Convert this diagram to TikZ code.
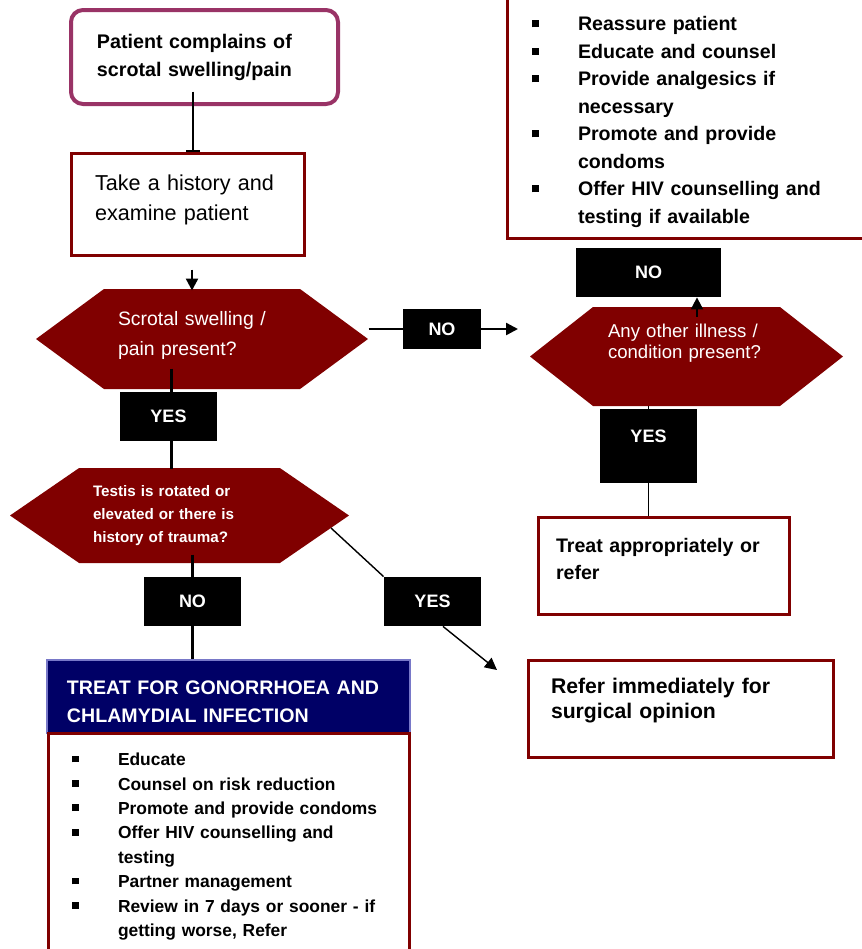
\documentclass[tikz,border=0pt]{standalone}
\usepackage{fontspec}
\setmainfont{Liberation Sans}
\usetikzlibrary{shapes.symbols,arrows.meta,calc}

\definecolor{darkred}{RGB}{128,0,0}
\definecolor{plum}{RGB}{153,51,102}
\definecolor{navy}{RGB}{0,0,102}
\definecolor{navyedge}{RGB}{120,120,200}

% square bullet, item line and continued line
\newcommand{\sqb}{\rule[1.7pt]{3.4pt}{3.4pt}}
\newcommand{\itm}[1]{\makebox[23pt][l]{\sqb}#1}
\newcommand{\cnt}[1]{\hspace*{23pt}#1}

\begin{document}
\begin{tikzpicture}[x=0.5pt,y=-0.5pt,
  box/.style={draw=darkred,line width=1.5pt,fill=white,inner sep=0pt,align=left},
  hexa/.style={signal,signal to=east and west,fill=darkred,text=white,inner sep=0pt,align=left},
  lbl/.style={fill=black,text=white,inner sep=0pt,font=\bfseries\fontsize{9}{10}\selectfont},
  line/.style={line width=1.2pt},
  thinline/.style={line width=0.7pt},
  arr/.style={line width=1.2pt,-{Triangle[length=6pt,width=6pt]}}]
  \useasboundingbox (0,0) rectangle (862,949);

  % left column
  \node[box,draw=plum,line width=2pt,rounded corners=6pt,minimum width=133.5pt,minimum height=47pt,
    text width=107.5pt,font=\bfseries\fontsize{9.85}{14}\selectfont] (p1) at (204.5,57)
    {Patient complains of\\scrotal swelling/pain};
  \node[box,minimum width=116.5pt,minimum height=51pt,text width=92.5pt,text depth=21pt,
    font=\fontsize{10.8}{15}\selectfont] (p2) at (187.5,204)
    {Take a history and\\examine patient};
  \node[hexa,signal pointer angle=72.7,minimum width=166pt,minimum height=50pt,text width=84pt,
    text depth=21pt,font=\fontsize{9.7}{15}\selectfont] (hex1) at (202,339)
    {Scrotal swelling /\\pain present?};
  \node[lbl,minimum width=39pt,minimum height=20pt] (noA) at (442,329) {NO};
  \node[lbl,minimum width=48.5pt,minimum height=24.5pt] (yesA) at (168.5,416.5) {YES};
  \node[hexa,signal pointer angle=69,minimum width=169.5pt,minimum height=47.5pt,text width=86.5pt,
    font=\bfseries\fontsize{7.6}{11.5}\selectfont] (hex3) at (179.5,515.5)
    {Testis is rotated or\\elevated or there is\\history of trauma?};
  \node[lbl,minimum width=48.5pt,minimum height=24.5pt] (noC) at (192.5,601.5) {NO};
  \node[lbl,minimum width=48.5pt,minimum height=24.5pt] (yesB) at (432.5,601.5) {YES};
  \node[fill=navy,draw=navyedge,line width=0.6pt,text=white,inner sep=0pt,align=left,
    minimum width=181.5pt,minimum height=36.5pt,text width=161.5pt,text height=12pt,
    font=\bfseries\fontsize{9.8}{14}\selectfont] (treatgc) at (228.5,696.5)
    {TREAT FOR GONORRHOEA AND\\CHLAMYDIAL INFECTION};
  \node[box,minimum width=180.5pt,minimum height=108.5pt,text width=156.5pt,text height=11.5pt,
    font=\bfseries\fontsize{8.7}{12.2}\selectfont] (care) at (228.5,841.5)
    {\itm{Educate}\\
     \itm{Counsel on risk reduction}\\
     \itm{Promote and provide condoms}\\
     \itm{Offer HIV counselling and}\\
     \cnt{testing}\\
     \itm{Partner management}\\
     \itm{Review in 7 days or sooner - if}\\
     \cnt{getting worse, Refer}};

  % right column
  \node[box,minimum width=186.5pt,minimum height=122pt,text width=161.5pt,text height=13pt,
    font=\bfseries\fontsize{9.8}{13.75}\selectfont] (advice) at (693.5,116)
    {\itm{Reassure patient}\\
     \itm{Educate and counsel}\\
     \itm{Provide analgesics if}\\
     \cnt{necessary}\\
     \itm{Promote and provide}\\
     \cnt{condoms}\\
     \itm{Offer HIV counselling and}\\
     \cnt{testing if available}};
  \node[lbl,minimum width=72.5pt,minimum height=24.5pt] (noB) at (648.5,272.5) {NO};
  \node[hexa,signal pointer angle=76.3,minimum width=156.5pt,minimum height=49.5pt,text width=78.5pt,
    text depth=26pt,font=\fontsize{9.3}{10.8}\selectfont] (hex2) at (686.5,356.5)
    {Any other illness /\\condition present?};
  \node[lbl,minimum width=48.5pt,minimum height=37pt,text depth=10pt] (yesC) at (648.5,446) {YES};
  \node[box,minimum width=125.5pt,minimum height=48.5pt,text width=107.5pt,text depth=20pt,
    font=\bfseries\fontsize{9.8}{13.5}\selectfont] (treat) at (663.5,565.5)
    {Treat appropriately or\\refer};
  \node[box,minimum width=152.5pt,minimum height=48.5pt,text width=129.5pt,text depth=23pt,
    font=\bfseries\fontsize{10.6}{12.5}\selectfont] (refer) at (680.5,708.5)
    {Refer immediately for\\surgical opinion};

  \coordinate (tipA) at (518,329);
  \coordinate (d1) at (331,528);
  \coordinate (tipB) at (497,670);

  % connectors
  \draw[line width=0.6pt,-{Bar[width=7pt]}] ($(p2.north)+(5.5,-60)$) -- ($(p2.north)+(5.5,0)$);
  \draw[arr] ($(p2.south)+(4.5,13)$) -- ($(p2.south)+(4.5,34)$);
  \draw[line] (hex1.east |- noA.west) -- (noA.west);
  \draw[arr] (noA.east) -- (tipA);
  \draw[line] ($(yesA.north)+(3,-23)$) -- ($(yesA.north)+(3,0)$);
  \draw[line] ($(yesA.south)+(3,0)$) -- ($(yesA.south)+(3,28)$);
  \draw[line] ($(noC.north)+(0,-22)$) -- (noC.north);
  \draw[line] (noC.south) -- (noC.south |- treatgc.north);
  \draw[thinline] (d1) -- (yesB.north west);
  \draw[thinline,-{Triangle[length=6pt,width=6pt]}] ($(yesB.south)+(10.5,0)$) -- (tipB);
  \draw[arr,line width=1pt] ($(hex2.north)+(10.5,10)$) -- (noB.south -| {$(hex2.north)+(10.5,0)$});
  \draw[thinline] (yesC.north) -- (yesC.north |- hex2.south);
  \draw[thinline] (yesC.south) -- (yesC.south |- treat.north);
\end{tikzpicture}
\end{document}
